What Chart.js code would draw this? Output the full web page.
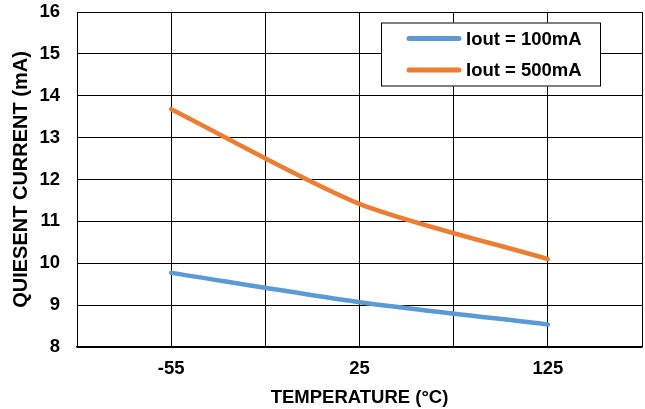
<!DOCTYPE html>
<html>
<head>
<meta charset="utf-8">
<script src="https://cdn.jsdelivr.net/npm/chart.js@4/dist/chart.umd.min.js"></script>
<style>
  html, body { margin: 0; padding: 0; background: #ffffff; }
  #wrap { width: 645px; height: 409px; position: relative; }
</style>
</head>
<body>
<div id="wrap"><canvas id="chart"></canvas></div>
<script>
// Temperature axis: labelled points with half-step grid divisions between them
const temperatureLabels = ['', '-55', '', '25', '', '125', ''];
// Quiescent current (mA) at each temperature
const iout100mA = [null, 9.77, null, 9.07, null, 8.54, null];
const iout500mA = [null, 13.68, null, 11.42, null, 10.10, null];
const seriesNames = ['Iout = 100mA', 'Iout = 500mA'];
const seriesColors = ['#5B9BD5', '#ED7D31'];
const currentTicks = { min: 8, max: 16, step: 1 };

const FONT = "'Liberation Sans', Arial, sans-serif";

// Boxed legend drawn inside the plot area, upper right
const boxLegend = {
  id: 'boxLegend',
  afterDraw(chart) {
    const ctx = chart.ctx;
    const x = 381, y = 22.5, w = 220, h = 64;
    ctx.save();
    ctx.fillStyle = '#ffffff';
    ctx.fillRect(x, y, w, h);
    ctx.strokeStyle = '#000000';
    ctx.lineWidth = 1;
    ctx.strokeRect(x + 0.5, y + 0.5, w - 1, h - 1);
    chart.data.datasets.forEach((ds, i) => {
      const ly = y + 16 + i * 31.5;
      ctx.strokeStyle = ds.borderColor;
      ctx.lineWidth = 5;
      ctx.lineCap = 'round';
      ctx.beginPath();
      ctx.moveTo(409, ly);
      ctx.lineTo(459, ly);
      ctx.stroke();
      ctx.fillStyle = '#000000';
      ctx.font = 'bold 18.5px ' + FONT;
      ctx.textBaseline = 'middle';
      ctx.textAlign = 'left';
      ctx.fillText(ds.label, 466, ly + 1);
    });
    ctx.restore();
  }
};

new Chart(document.getElementById('chart'), {
  type: 'line',
  data: {
    labels: temperatureLabels,
    datasets: [
      {
        label: seriesNames[0],
        data: iout100mA,
        borderColor: seriesColors[0],
        backgroundColor: seriesColors[0],
        borderWidth: 4.5,
        borderCapStyle: 'round',
        pointRadius: 0,
        tension: 0.25,
        spanGaps: true
      },
      {
        label: seriesNames[1],
        data: iout500mA,
        borderColor: seriesColors[1],
        backgroundColor: seriesColors[1],
        borderWidth: 4.5,
        borderCapStyle: 'round',
        pointRadius: 0,
        tension: 0.25,
        spanGaps: true
      }
    ]
  },
  options: {
    responsive: true,
    maintainAspectRatio: false,
    animation: false,
    events: [],
    layout: { padding: { top: 12, right: 3, left: 0, bottom: 0 } },
    plugins: {
      legend: { display: false },
      tooltip: { enabled: false }
    },
    scales: {
      x: {
        type: 'category',
        offset: false,
        grid: { color: '#000000', lineWidth: 1, drawTicks: false },
        border: { color: '#000000', width: 1.5 },
        ticks: {
          color: '#000000',
          font: { family: FONT, size: 18.5, weight: 'bold' },
          padding: 11,
          autoSkip: false,
          maxRotation: 0
        },
        title: {
          display: true,
          text: 'TEMPERATURE (°C)',
          color: '#000000',
          font: { family: FONT, size: 18.5, weight: 'bold' },
          padding: 0
        },
        afterFit(scale) {
          scale.height = 62;
          scale.paddingLeft = 0;
          scale.paddingRight = 0;
        }
      },
      y: {
        min: currentTicks.min,
        max: currentTicks.max,
        grid: { color: '#000000', lineWidth: 1, drawTicks: false },
        border: { color: '#000000', width: 1 },
        ticks: {
          stepSize: currentTicks.step,
          color: '#000000',
          font: { family: FONT, size: 18.5, weight: 'bold' },
          padding: 17
        },
        title: {
          display: true,
          text: 'QUIESENT CURRENT (mA)',
          color: '#000000',
          font: { family: FONT, size: 20, weight: 'bold' },
          padding: 9
        },
        afterFit(scale) {
          scale.width = 77;
          scale.paddingTop = 0;
          scale.paddingBottom = 0;
        }
      }
    }
  },
  plugins: [boxLegend]
});
</script>
</body>
</html>
